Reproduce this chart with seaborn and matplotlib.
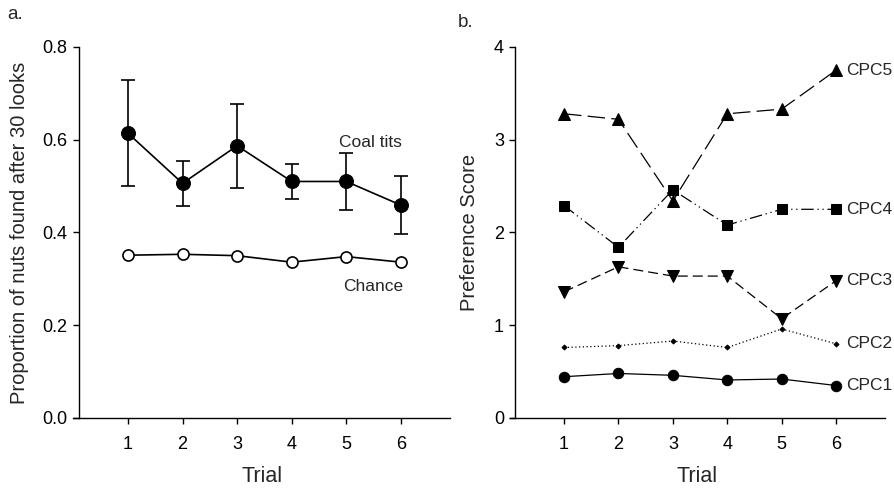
import matplotlib
matplotlib.use("Agg")
import matplotlib.pyplot as plt
import seaborn as sns
import pandas as pd

# Datos
trials = [1, 2, 3, 4, 5, 6]
coal_tits = [0.614, 0.506, 0.587, 0.510, 0.510, 0.459]
coal_tits_err = [0.114, 0.049, 0.090, 0.038, 0.062, 0.062]
chance = [0.351, 0.353, 0.350, 0.336, 0.348, 0.336]

cpc1 = [0.445, 0.48, 0.46, 0.41, 0.42, 0.35]
cpc2 = [0.76, 0.78, 0.83, 0.76, 0.96, 0.80]
cpc3 = [1.36, 1.63, 1.53, 1.53, 1.07, 1.48]
cpc4 = [2.29, 1.84, 2.46, 2.08, 2.25, 2.25]
cpc5 = [3.28, 3.22, 2.34, 3.28, 3.33, 3.75]
cpc_names = ["CPC1", "CPC2", "CPC3", "CPC4", "CPC5"]

sns.set_style("ticks")
plt.rcParams["font.family"] = ["Liberation Sans", "DejaVu Sans"]

fig = plt.figure(figsize=(8.95, 4.91), dpi=100)
ax_a = fig.add_axes([0.082, 0.1487, 0.4208, 0.7556])
ax_b = fig.add_axes([0.5694, 0.1487, 0.4195, 0.7556])


def style_axes(ax):
    ax.set_xlim(0, 6.9)
    ax.spines["left"].set_position(("data", 0.1))
    ax.spines["top"].set_visible(False)
    ax.spines["right"].set_visible(False)
    for s in ["left", "bottom"]:
        ax.spines[s].set_linewidth(1.0)
        ax.spines[s].set_color("black")
    ax.set_xticks(trials)
    ax.tick_params(axis="both", direction="out", length=4, width=1,
                   color="black", labelsize=13, labelcolor="black")
    ax.tick_params(axis="x", pad=9)
    ax.tick_params(axis="y", pad=4)
    ax.set_xlabel("Trial", fontsize=15.5, labelpad=9)


# Panel a
df_a = pd.DataFrame({"trial": trials, "coal": coal_tits, "chance": chance})
ax_a.errorbar(trials, coal_tits, yerr=coal_tits_err, fmt="none",
              ecolor="black", elinewidth=1.2, capsize=5, capthick=1.2, zorder=2)
sns.lineplot(data=df_a, x="trial", y="coal", ax=ax_a, color="black",
             linewidth=1.2, marker="o", markersize=10,
             markerfacecolor="black", markeredgecolor="black", zorder=3)
sns.lineplot(data=df_a, x="trial", y="chance", ax=ax_a, color="black",
             linewidth=1.2, marker="o", markersize=8,
             markerfacecolor="white", markeredgecolor="black",
             markeredgewidth=1.2, zorder=3)
ax_a.set_ylim(0, 0.8)
ax_a.set_yticks([0.0, 0.2, 0.4, 0.6, 0.8])
ax_a.set_yticklabels(["0.0", "0.2", "0.4", "0.6", "0.8"])
style_axes(ax_a)
ax_a.set_ylabel("Proportion of nuts found after 30 looks", fontsize=14.5,
                labelpad=10)
ax_a.text(5.45, 0.594, "Coal tits", fontsize=12.5, ha="center", va="center")
ax_a.text(5.5, 0.283, "Chance", fontsize=12.5, ha="center", va="center")

# Panel b
df_b = pd.DataFrame({"trial": trials, "CPC1": cpc1, "CPC2": cpc2,
                     "CPC3": cpc3, "CPC4": cpc4, "CPC5": cpc5})
styles = {
    "CPC1": dict(marker="o", markersize=7.5, linestyle="-"),
    "CPC2": dict(marker="D", markersize=2.5, linestyle=(0, (1, 2))),
    "CPC3": dict(marker="v", markersize=8, linestyle=(0, (8, 4))),
    "CPC4": dict(marker="s", markersize=7, linestyle=(0, (10, 3, 1, 3, 1, 3))),
    "CPC5": dict(marker="^", markersize=8, linestyle=(0, (14, 5))),
}
for name in cpc_names:
    sns.lineplot(data=df_b, x="trial", y=name, ax=ax_b, color="black",
                 linewidth=0.9, markerfacecolor="black",
                 markeredgecolor="black", **styles[name])
    ax_b.text(6.18, df_b[name].iloc[-1], name, fontsize=12.5,
              ha="left", va="center")
ax_b.set_ylim(0, 4)
ax_b.set_yticks([0, 1, 2, 3, 4])
style_axes(ax_b)
ax_b.set_ylabel("Preference Score", fontsize=14.5, labelpad=11)

fig.text(0.008, 0.97, "a.", fontsize=13.5, ha="left", va="center")
fig.text(0.511, 0.955, "b.", fontsize=13.5, ha="left", va="center")

plt.savefig("out.png", dpi=100)
plt.close()
